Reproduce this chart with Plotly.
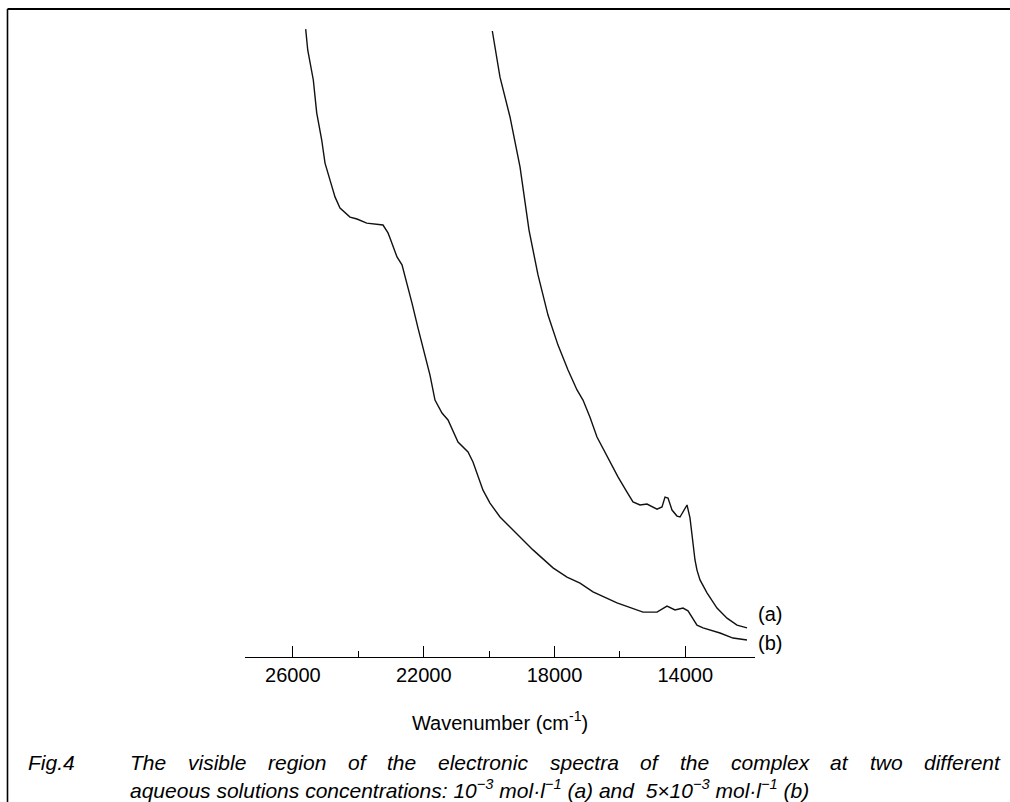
import plotly.graph_objects as go

# ---- data (wavenumber in cm^-1, absorbance in arbitrary units) ----
wn_a = [19902, 19667, 19361, 19055, 18780, 18505, 18199, 17893, 17587, 17312,
        17129, 16915, 16701, 16548, 16303, 16059, 15783, 15600, 15385, 15172,
        14866, 14713, 14621, 14529, 14407, 14254, 14162, 14040, 13948, 13857,
        13765, 13704, 13643, 13551, 13337, 13031, 12725, 12419, 12114]
abs_a = [1.981, 1.835, 1.709, 1.551, 1.351, 1.209, 1.082, 0.987, 0.908, 0.845,
         0.813, 0.759, 0.696, 0.665, 0.617, 0.570, 0.522, 0.491, 0.481, 0.484,
         0.468, 0.475, 0.506, 0.503, 0.465, 0.446, 0.443, 0.465, 0.481, 0.440,
         0.354, 0.307, 0.275, 0.244, 0.203, 0.155, 0.123, 0.101, 0.092]

wn_b = [25609, 25547, 25376, 25272, 25119, 25018, 24865, 24713, 24560, 24407,
        24254, 24040, 23743, 23245, 23092, 23031, 22939, 22817, 22664, 22511,
        22358, 22174, 21991, 21808, 21655, 21441, 21257, 20951, 20645, 20493,
        20187, 19973, 19667, 19269, 18658, 18046, 17618, 17220, 16823, 16089,
        15600, 15294, 14866, 14560, 14315, 14071, 13918, 13643, 13459, 12939,
        12542, 12114]
abs_b = [1.987, 1.921, 1.826, 1.722, 1.636, 1.563, 1.509, 1.456, 1.421, 1.405,
         1.392, 1.386, 1.373, 1.367, 1.342, 1.326, 1.297, 1.266, 1.241, 1.184,
         1.120, 1.041, 0.965, 0.892, 0.813, 0.772, 0.750, 0.680, 0.649, 0.617,
         0.528, 0.487, 0.443, 0.402, 0.339, 0.282, 0.253, 0.234, 0.206, 0.171,
         0.152, 0.142, 0.142, 0.161, 0.149, 0.155, 0.146, 0.101, 0.092, 0.076,
         0.060, 0.054]

major_ticks = [26000, 22000, 18000, 14000]
major_labels = ["26000", "22000", "18000", "14000"]
minor_ticks = [24000, 20000, 16000]
x_span = [27465, 11869]
y_span = [0, 2.0]

series_labels = ["(a)", "(b)"]
x_title = "Wavenumber (cm<sup>-1</sup>)"
caption_fig = "Fig.4"
caption_line1 = "The visible region of the electronic spectra of the complex at two different"
caption_line2 = ("aqueous solutions concentrations: 10<sup>\u22123</sup> mol\u00b7l<sup>\u22121</sup> (a) and "
                 " 5\u00d710<sup>\u22123</sup> mol\u00b7l<sup>\u22121</sup> (b)")

W, H = 1010, 802
SANS = "Liberation Sans, Arial, sans-serif"

# Arial / Liberation Sans advance widths (per 1000 em) used to justify caption line 1
ADV = {" ": 278, "T": 611, "h": 556, "e": 556, "v": 500, "i": 222, "s": 500,
       "b": 556, "l": 222, "r": 333, "g": 556, "o": 556, "n": 556, "f": 278,
       "t": 278, "c": 500, "p": 556, "a": 556, "m": 833, "x": 500, "w": 722,
       "d": 556}

fig = go.Figure()
line_style = dict(color="#111111", width=1.4)
fig.add_trace(go.Scatter(x=wn_a, y=abs_a, mode="lines", line=line_style,
                         showlegend=False, hoverinfo="skip"))
fig.add_trace(go.Scatter(x=wn_b, y=abs_b, mode="lines", line=line_style,
                         showlegend=False, hoverinfo="skip"))

fig.update_layout(
    width=W, height=H,
    margin=dict(l=0, r=0, t=0, b=0),
    paper_bgcolor="white", plot_bgcolor="white",
    xaxis=dict(
        domain=[245 / W, 755 / W],
        range=x_span,
        showgrid=False, zeroline=False,
        showline=True, linecolor="black", linewidth=1.3,
        ticks="inside", ticklen=11, tickwidth=1.3, tickcolor="black",
        tickvals=major_ticks, ticktext=major_labels,
        tickfont=dict(family=SANS, size=20, color="black"),
        minor=dict(tickvals=minor_ticks, ticks="inside", ticklen=6,
                   tickwidth=1.3, tickcolor="black", showgrid=False),
        title=dict(text=x_title, font=dict(family=SANS, size=20, color="black"),
                   standoff=30),
    ),
    yaxis=dict(domain=[1 - 657 / H, 1 - 25 / H], range=y_span, visible=False),
    shapes=[
        dict(type="line", xref="paper", yref="paper",
             x0=7.5 / W, x1=1.0, y0=1 - 9 / H, y1=1 - 9 / H,
             line=dict(color="black", width=2.2)),
        dict(type="line", xref="paper", yref="paper",
             x0=7.5 / W, x1=7.5 / W, y0=0, y1=1 - 9 / H,
             line=dict(color="black", width=1.6)),
    ],
)

# series labels next to the curve ends
fig.add_annotation(x=wn_a[-1], y=abs_a[-1], text=series_labels[0], showarrow=False,
                   xanchor="left", yanchor="middle", xshift=9, yshift=14,
                   font=dict(family=SANS, size=20, color="black"))
fig.add_annotation(x=wn_b[-1], y=abs_b[-1], text=series_labels[1], showarrow=False,
                   xanchor="left", yanchor="middle", xshift=9, yshift=-3,
                   font=dict(family=SANS, size=20, color="black"))

# caption
CAP_SIZE = 21
cap_font = dict(family=SANS, size=CAP_SIZE, color="black")
y1 = 1 - 762 / H
y2 = 1 - 789 / H
fig.add_annotation(xref="paper", yref="paper", x=27 / W, y=y1,
                   text="<i>" + caption_fig + "</i>", showarrow=False,
                   xanchor="left", yanchor="middle", font=cap_font, borderpad=0)

# justified first line: distribute words between left and right edges
left, right = 129, 999
words = caption_line1.split(" ")
wpx = [sum(ADV.get(c, 556) for c in w) * CAP_SIZE / 1000 for w in words]
gap = (right - left - sum(wpx)) / (len(words) - 1)
xpos = left
for w, wp in zip(words, wpx):
    fig.add_annotation(xref="paper", yref="paper", x=xpos / W, y=y1,
                       text="<i>" + w + "</i>", showarrow=False,
                       xanchor="left", yanchor="middle", font=cap_font, borderpad=0)
    xpos += wp + gap

fig.add_annotation(xref="paper", yref="paper", x=left / W, y=y2,
                   text="<i>" + caption_line2 + "</i>", showarrow=False,
                   xanchor="left", yanchor="middle", font=cap_font, borderpad=0)

fig.write_html("out.html")
